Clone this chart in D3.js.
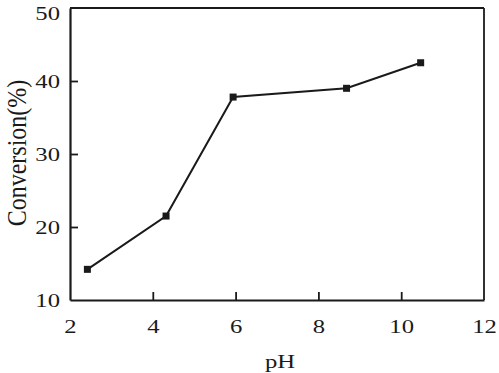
<!DOCTYPE html>
<html>
<head>
<meta charset="utf-8">
<script src="https://cdn.jsdelivr.net/npm/d3@7"></script>
<style>
  body { margin: 0; background: #fff; }
  svg { display: block; }
  text { font-family: "Liberation Serif", "Times New Roman", serif; fill: #1a1a1a; }
</style>
</head>
<body>
<svg id="chart" width="499" height="373"></svg>
<script>
const pH = [2.42, 4.32, 5.94, 8.68, 10.47];
const conversion = [14.2, 21.5, 37.8, 39.0, 42.5];
const xTicks = [2, 4, 6, 8, 10, 12];
const yTicks = [10, 20, 30, 40, 50];
const xLabel = "pH";
const yLabel = "Conversion(%)";

const svg = d3.select("#chart");
const pL = 70, pR = 484, pT = 8, pB = 300;
const x = d3.scaleLinear().domain([2, 12]).range([pL, pR]);
const y = d3.scaleLinear().domain([10, 50]).range([pB, pT]);
const ink = "#1a1a1a";
const stretch = 1.3;

// frame top & right
svg.append("line").attr("x1", pL).attr("x2", pR).attr("y1", pT).attr("y2", pT)
  .attr("stroke", ink).attr("stroke-width", 1.8);
svg.append("line").attr("x1", pR).attr("x2", pR).attr("y1", pT).attr("y2", pB)
  .attr("stroke", ink).attr("stroke-width", 1.8);

// x axis
const gx = svg.append("g").attr("transform", `translate(0,${pB})`)
  .call(d3.axisBottom(x).tickValues(xTicks).tickSizeInner(-8).tickSizeOuter(0).tickFormat(d3.format("d")));
gx.select(".domain").attr("stroke", ink).attr("stroke-width", 2.2);
gx.selectAll(".tick line").attr("stroke", ink).attr("stroke-width", 1.8)
  .filter(d => d === 2 || d === 12).remove();
gx.selectAll(".tick text")
  .attr("y", 0).attr("dy", null).attr("x", 0)
  .attr("transform", `translate(0,33) scale(${stretch},1)`)
  .attr("font-size", 19).attr("fill", ink).attr("text-anchor", "middle");

// y axis
const gy = svg.append("g").attr("transform", `translate(${pL},0)`)
  .call(d3.axisLeft(y).tickValues(yTicks).tickSizeInner(-8).tickSizeOuter(0).tickFormat(d3.format("d")));
gy.select(".domain").attr("stroke", ink).attr("stroke-width", 2.2);
gy.selectAll(".tick line").attr("stroke", ink).attr("stroke-width", 1.8)
  .filter(d => d === 10 || d === 50).remove();
gy.selectAll(".tick text")
  .attr("x", 0).attr("dy", null).attr("y", 0)
  .attr("transform", d => `translate(-10,${d === 50 ? 11.5 : 6.5}) scale(${stretch},1)`)
  .attr("font-size", 19).attr("fill", ink).attr("text-anchor", "end");

// axis titles
svg.append("text")
  .attr("transform", `translate(${(pL + pR) / 2 + 3},368) scale(${stretch},1)`)
  .attr("text-anchor", "middle").attr("font-size", 19).text(xLabel);
svg.append("text")
  .attr("transform", `translate(26,153) rotate(-90) scale(1,1.15)`)
  .attr("text-anchor", "middle").attr("font-size", 24).text(yLabel);

// data
const data = pH.map((p, i) => ({ p, c: conversion[i] }));
svg.append("path").datum(data)
  .attr("fill", "none").attr("stroke", ink).attr("stroke-width", 2)
  .attr("d", d3.line().x(d => x(d.p)).y(d => y(d.c)));
svg.selectAll("rect.pt").data(data).enter().append("rect")
  .attr("class", "pt")
  .attr("x", d => x(d.p) - 3.5).attr("y", d => y(d.c) - 3.5)
  .attr("width", 7).attr("height", 7).attr("fill", ink);
</script>
</body>
</html>
